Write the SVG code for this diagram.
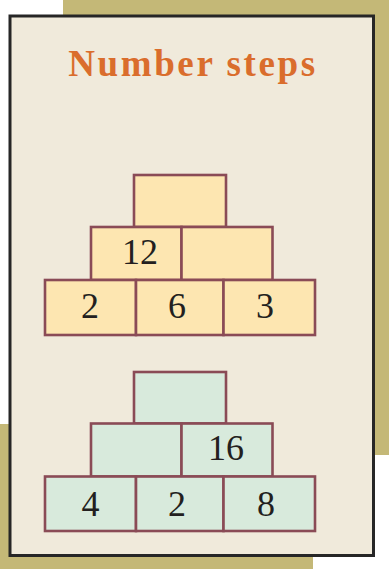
<svg xmlns="http://www.w3.org/2000/svg" width="389" height="569" viewBox="0 0 389 569">
<style>
.olive{fill:#c4b877}
.frame{fill:#f0eadb;stroke:#262626;stroke-width:3}
.title{font-family:"Liberation Serif",serif;font-weight:bold;font-size:37px;fill:#da6d2c;letter-spacing:2.6px}
.y rect{fill:#fde6b1;stroke:#8a4b56;stroke-width:2.6}
.g rect{fill:#d8eadc;stroke:#8a4b56;stroke-width:2.6}
text.n{font-family:"Liberation Serif",serif;font-size:36px;fill:#231f20;text-anchor:middle}
</style>
<rect class="olive" x="63" y="0" width="326" height="455"/>
<rect class="olive" x="0" y="424" width="313" height="145"/>
<rect class="frame" x="10" y="16" width="363.5" height="539.5"/>
<text class="title" x="193" y="76" text-anchor="middle">Number steps</text>
<g id="pyramid1" class="y">
  <g id="p1-top"><rect x="134" y="175" width="92" height="52"/></g>
  <g id="p1-mid-left"><rect x="91" y="227" width="90.5" height="53"/><text class="n" x="140" y="264">12</text></g>
  <g id="p1-mid-right"><rect x="181.5" y="227" width="91" height="53"/></g>
  <g id="p1-bot-left"><rect x="45" y="280" width="91" height="55"/><text class="n" x="90" y="318">2</text></g>
  <g id="p1-bot-mid"><rect x="136" y="280" width="87.5" height="55"/><text class="n" x="177" y="318">6</text></g>
  <g id="p1-bot-right"><rect x="223.5" y="280" width="91.5" height="55"/><text class="n" x="265" y="318">3</text></g>
</g>
<g id="pyramid2" class="g">
  <g id="p2-top"><rect x="134" y="372" width="92" height="51.5"/></g>
  <g id="p2-mid-left"><rect x="91" y="423.5" width="90.5" height="53"/></g>
  <g id="p2-mid-right"><rect x="181.5" y="423.5" width="91" height="53"/><text class="n" x="226" y="460">16</text></g>
  <g id="p2-bot-left"><rect x="45" y="476.5" width="91" height="54.5"/><text class="n" x="90.5" y="515.5">4</text></g>
  <g id="p2-bot-mid"><rect x="136" y="476.5" width="87.5" height="54.5"/><text class="n" x="177" y="515.5">2</text></g>
  <g id="p2-bot-right"><rect x="223.5" y="476.5" width="91.5" height="54.5"/><text class="n" x="266" y="515.5">8</text></g>
</g>
</svg>
